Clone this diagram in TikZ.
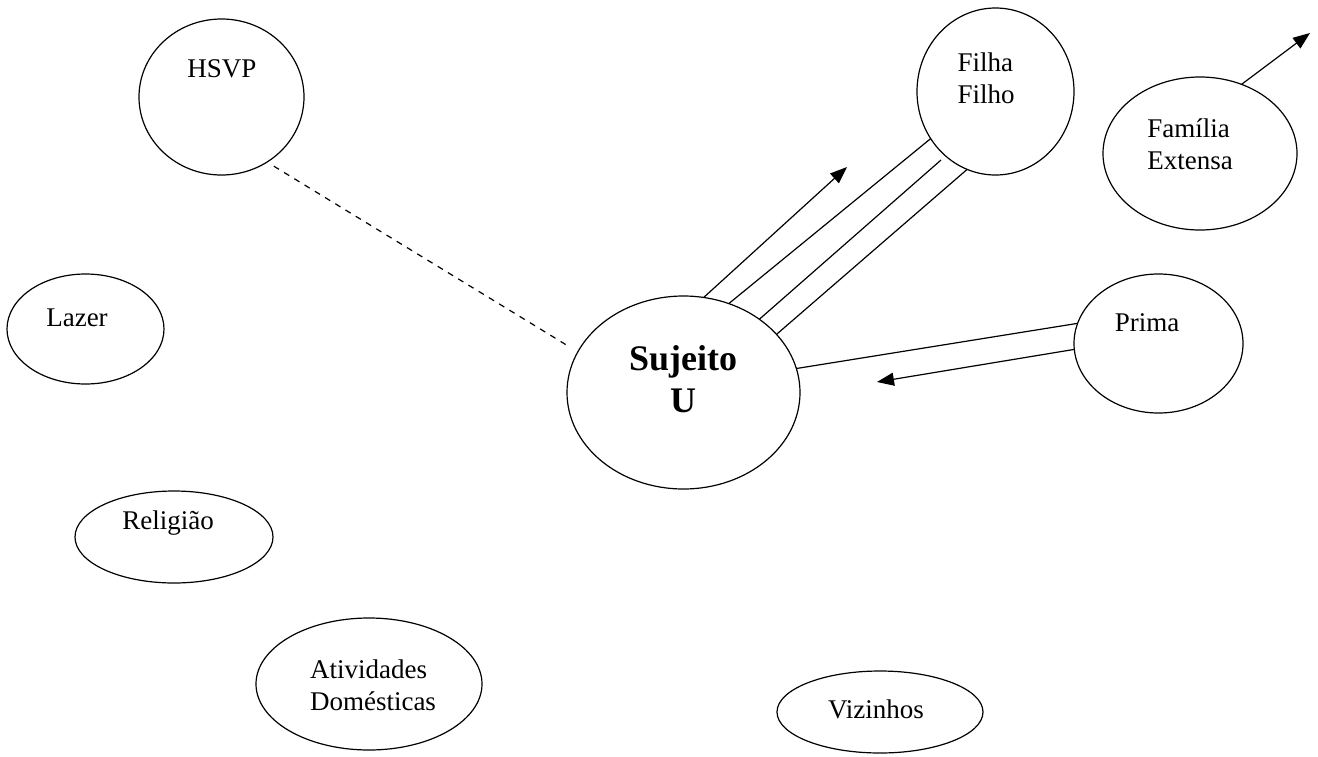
\documentclass[tikz,border=0pt]{standalone}
\usepackage{fontspec}
\setmainfont{Liberation Serif}
\usetikzlibrary{shapes.geometric, arrows.meta}

\begin{document}
\begin{tikzpicture}[x=0.5pt, y=-0.5pt,
  circ/.style={draw, ellipse, inner sep=0pt, outer sep=0pt, line width=0.6pt},
  lbl/.style={font=\fontsize{13.5}{16}\selectfont, align=left, inner sep=0pt},
  conn/.style={line width=0.6pt},
  tip/.style={conn, -{Triangle[length=8.5pt, width=6.5pt]}}]
\useasboundingbox (0,0) rectangle (1318,756);
% Ellipses
\node[circ, minimum width=82.5pt, minimum height=78pt] (hsvp) at (221.5, 97) {};
\node[circ, minimum width=78.5pt, minimum height=83.5pt] (filha) at (995.5, 91.5) {};
\node[circ, minimum width=97pt, minimum height=76.5pt] (fam) at (1200, 153.5) {};
\node[circ, minimum width=78.5pt, minimum height=55pt] (lazer) at (85.5, 329) {};
\node[circ, minimum width=116.5pt, minimum height=96.5pt] (suj) at (683.5, 392.5) {};
\node[circ, minimum width=84.5pt, minimum height=69.5pt] (prima) at (1158.5, 343.5) {};
\node[circ, minimum width=99pt, minimum height=46pt] (rel) at (174, 537) {};
\node[circ, minimum width=113pt, minimum height=66pt] (ativ) at (369, 684) {};
\node[circ, minimum width=103pt, minimum height=41pt] (viz) at (880, 712) {};
%Text
\node[lbl] (hsvpT) at (222, 69) {HSVP};
\node[lbl] (filhaT) at (986, 78) {Filha\\Filho};
\node[lbl] (famT) at (1190, 144) {Família\\Extensa};
\node[lbl] (lazerT) at (77, 318) {Lazer};
\node[lbl, align=center, font=\fontsize{18}{21}\selectfont\bfseries] (sujT) at (683, 379) {Sujeito\\U};
\node[lbl] (primaT) at (1147, 323) {Prima};
\node[lbl] (relT) at (168, 523) {Religião};
\node[lbl] (ativT) at (373, 685) {Atividades\\Domésticas};
\node[lbl] (vizT) at (876, 709) {Vizinhos};
% Ligações
\coordinate (filhaTip) at (847, 167);
\coordinate (filhaMid) at (941, 160);
\coordinate (primaTip) at (877, 382);
\coordinate (famTip) at (1310, 33);
\draw[conn, dashed, shorten <=4pt, shorten >=6pt] (hsvp.-55) -- (suj.159);
\draw[tip] (suj.78.5) -- (filhaTip);
\draw[conn] (suj.63) -- (filha.216);
\draw[conn] (suj.44.6) -- (filhaMid);
\draw[conn] (suj.32) -- (filha.250);
\draw[conn] (suj.12) -- (prima.166);
\draw[tip] (prima.184) -- (primaTip);
\draw[tip] (fam.59) -- (famTip);
\end{tikzpicture}
\end{document}
